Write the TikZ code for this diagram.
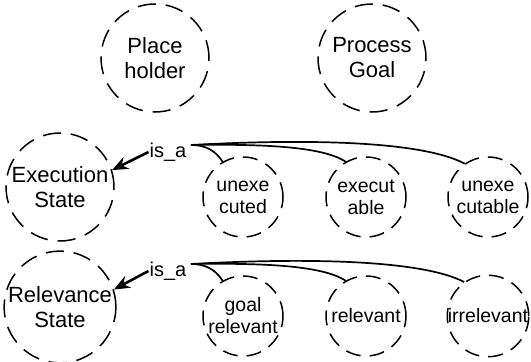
\documentclass[tikz,border=0pt]{standalone}
\usepackage{fontspec}
\setmainfont{Liberation Sans}
\usetikzlibrary{arrows.meta}
\begin{document}
\begin{tikzpicture}[x=1pt,y=-1pt,
  bigcls/.style={circle, draw, line width=1.5pt, dash pattern=on 18pt off 10pt,
    minimum size=108pt, inner sep=0pt, align=center,
    font=\fontsize{22}{25}\selectfont},
  smallcls/.style={circle, draw, line width=1.5pt, dash pattern=on 15pt off 9pt,
    minimum size=80pt, inner sep=0pt, align=center,
    font=\fontsize{19.5}{22}\selectfont},
  rel/.style={font=\fontsize{20}{22}\selectfont, inner sep=1pt},
  isaarrow/.style={line width=2.6pt, -{Stealth[length=16pt,width=13pt]}},
  branch/.style={line width=1.7pt}]
\useasboundingbox (0,0) rectangle (531,362);

% top row
\node[bigcls] (ph) at (155,58) {Place\\holder};
\node[bigcls] (pg) at (372,58) {Process\\Goal};

% execution state family
\node[bigcls] (ex) at (60,187) {Execution\\State};
\node[rel] (isa1) at (168,152) {is\_a};
\node[smallcls] (u1) at (243,197) {unexe\\cuted};
\node[smallcls] (e1) at (366,197) {execut\\able};
\node[smallcls] (c1) at (488,197) {unexe\\cutable};
\coordinate (s1) at (191,145);
\draw[isaarrow] (isa1.west) -- (ex.18);
\draw[branch] (s1) .. controls (205,145) and (215,150) .. (u1.120);
\draw[branch] (s1) .. controls (260,144) and (322,146) .. (e1.120);
\draw[branch] (s1) .. controls (300,139) and (420,140) .. (c1.125);

% relevance state family
\node[bigcls] (rs) at (60,307) {Relevance\\State};
\node[rel] (isa2) at (168,271) {is\_a};
\node[smallcls] (g2) at (243,316) {goal\\relevant};
\node[smallcls] (r2) at (366,316) {relevant};
\node[smallcls] (i2) at (488,316) {irrelevant};
\coordinate (s2) at (191,264);
\draw[isaarrow] (isa2.west) -- (rs.18);
\draw[branch] (s2) .. controls (205,264) and (215,269) .. (g2.120);
\draw[branch] (s2) .. controls (260,263) and (322,265) .. (r2.120);
\draw[branch] (s2) .. controls (300,258) and (420,259) .. (i2.125);
\end{tikzpicture}
\end{document}
